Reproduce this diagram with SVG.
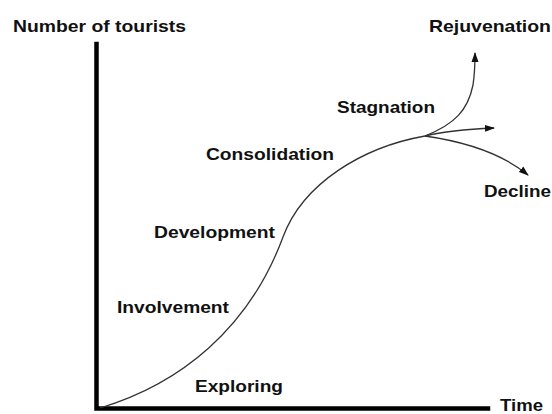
<svg xmlns="http://www.w3.org/2000/svg" width="552" height="414" viewBox="0 0 552 414">
<style>
.lbl{font-family:"Liberation Sans",Arial,sans-serif;font-weight:bold;font-size:17px;fill:#111}
.axis{stroke:#000;stroke-width:4.5;fill:none;stroke-linecap:square}
.curve{stroke:#333;stroke-width:1.3;fill:none}
</style>
<defs>
<marker id="arr" markerWidth="10" markerHeight="8" refX="9" refY="4" orient="auto" markerUnits="userSpaceOnUse">
<path d="M0,0.5 L10,4 L0,7.5 Z" fill="#111"/>
</marker>
</defs>
<rect width="552" height="414" fill="#fff"/>
<g id="axes">
<path class="axis" d="M96.5,44 V408.5 H488"/>
</g>
<g id="connectors">
<path id="lifecycle" class="curve" d="M100,408 C180,384 249,329 283,237 C303,183 363,147 425,136"/>
<path id="to-rejuvenation" class="curve" marker-end="url(#arr)" d="M425,136 C455,124 468,110 473,85 C475,72 475,62 475,53"/>
<path id="to-stagnation" class="curve" marker-end="url(#arr)" d="M425,136 C445,131 470,129 494,128"/>
<path id="to-decline" class="curve" marker-end="url(#arr)" d="M425,136 C460,141 500,152 528,175"/>
</g>
<g id="y-label"><text class="lbl" x="13" y="32" textLength="173" lengthAdjust="spacingAndGlyphs">Number of tourists</text></g>
<g id="x-label"><text class="lbl" x="500" y="410.5" textLength="43" lengthAdjust="spacingAndGlyphs">Time</text></g>
<g id="rejuvenation"><text class="lbl" x="429" y="32" textLength="122" lengthAdjust="spacingAndGlyphs">Rejuvenation</text></g>
<g id="stagnation"><text class="lbl" x="337" y="113" textLength="98" lengthAdjust="spacingAndGlyphs">Stagnation</text></g>
<g id="consolidation"><text class="lbl" x="206" y="160" textLength="128" lengthAdjust="spacingAndGlyphs">Consolidation</text></g>
<g id="decline"><text class="lbl" x="484" y="197" textLength="67" lengthAdjust="spacingAndGlyphs">Decline</text></g>
<g id="development"><text class="lbl" x="154" y="238" textLength="121" lengthAdjust="spacingAndGlyphs">Development</text></g>
<g id="involvement"><text class="lbl" x="117" y="313" textLength="112" lengthAdjust="spacingAndGlyphs">Involvement</text></g>
<g id="exploring"><text class="lbl" x="195" y="392" textLength="88" lengthAdjust="spacingAndGlyphs">Exploring</text></g>
</svg>
